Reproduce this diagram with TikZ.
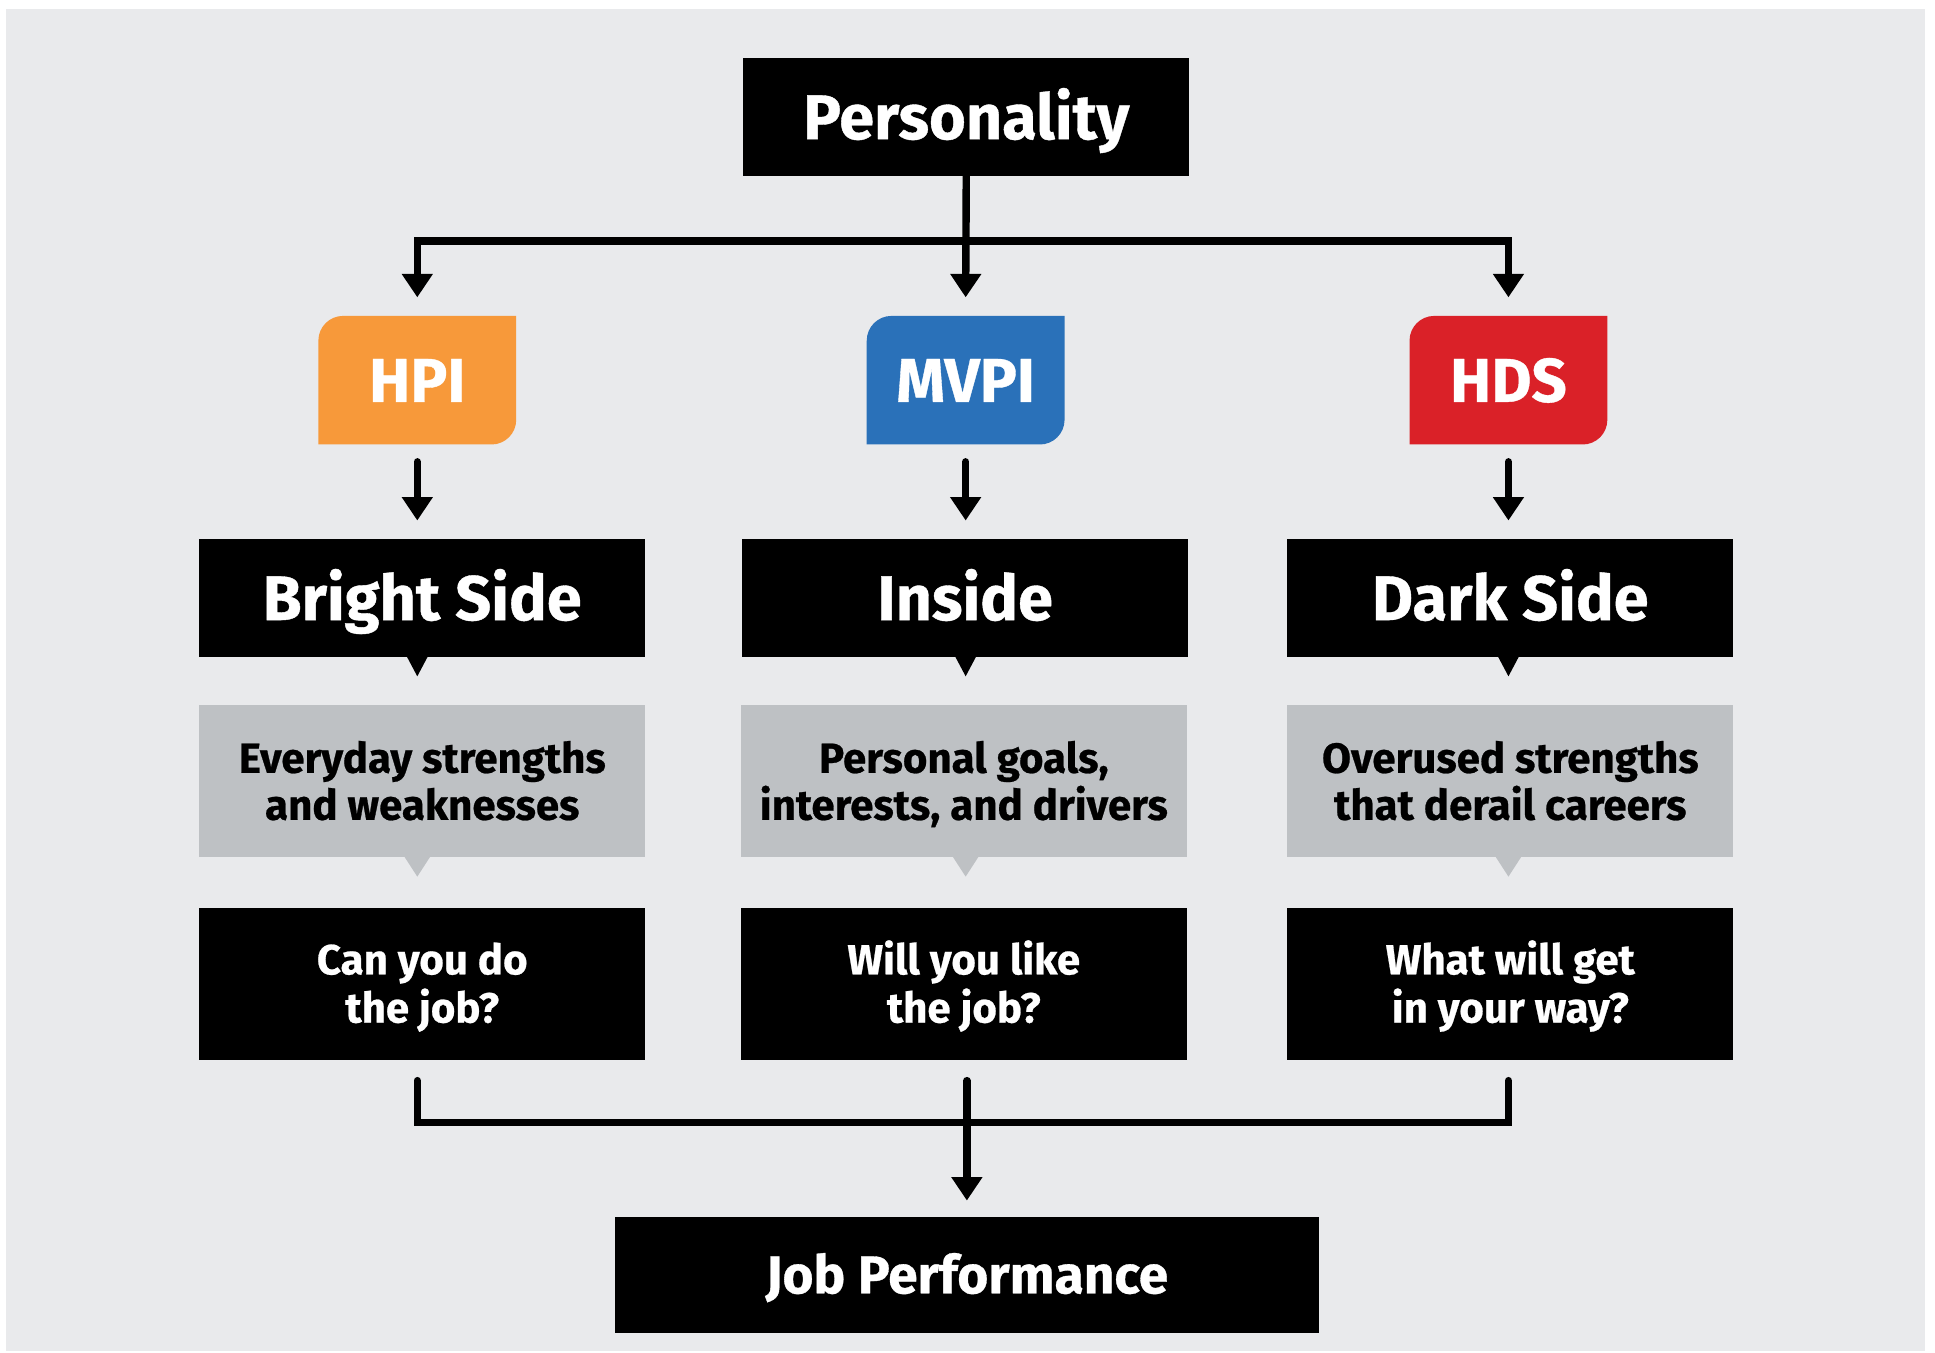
\documentclass[tikz,border=0pt]{standalone}
\usepackage{fontspec}
\setmainfont{Fira Sans}[BoldFeatures={FakeBold=0.6}]
\usetikzlibrary{arrows.meta,calc}
\definecolor{bgcol}{HTML}{E9EAEC}
\definecolor{graybox}{HTML}{BEC1C4}
\definecolor{hpicol}{HTML}{F7993A}
\definecolor{mvpicol}{HTML}{2A71B9}
\definecolor{hdscol}{HTML}{DA2128}
\newcommand\myTop[1]{\rule{0pt}{#1}}
\newcommand\myBot[1]{\rule[-#1]{0pt}{#1}}
\begin{document}
\begin{tikzpicture}[x=1pt,y=-1pt,
  blackbox/.style={fill=black,text=white,inner sep=0pt,outer sep=0pt,minimum width=361pt,align=center},
  headbox/.style={blackbox,minimum height=95pt,text height=36pt,text depth=0pt,font=\fontsize{51}{51}\selectfont\bfseries},
  descbox/.style={fill=graybox,text=black,inner sep=0pt,outer sep=0pt,minimum width=361pt,minimum height=123pt,align=center,font=\fontsize{34}{38}\selectfont\bfseries},
  qbox/.style={blackbox,minimum height=123pt,font=\fontsize{34}{39}\selectfont\bfseries},
  tagbox/.style={text=white,inner sep=0pt,outer sep=0pt,minimum width=160pt,minimum height=104pt,text height=35pt,text depth=0pt,font=\fontsize{50}{50}\selectfont\bfseries},
  conn/.style={line width=6pt,draw=black},
  arr/.style={conn,-{Triangle[length=19pt,width=24pt]}},
  stub/.style={arr,line cap=round}
]
\useasboundingbox (0,0) rectangle (1565,1094);
\fill[white] (0,0) rectangle (1565,1094);
\fill[bgcol] (5,7) rectangle (1557,1093);

% top
\node[headbox] (pers) at (781.5,94.5) {Personality};

% tags (shape drawn behind, text in node)
\foreach \n/\c/\x in {hpi/hpicol/337.5,mvpi/mvpicol/781,hds/hdscol/1220}{
  \path (\x,307.5) node[tagbox,name=\n] {};
  \fill[\c] (\n.south west) -- ([yshift=-20pt]\n.north west)
     arc[start angle=180,end angle=90,radius=20pt]
     -- (\n.north east) -- ([yshift=20pt]\n.south east)
     arc[start angle=0,end angle=-90,radius=20pt] -- cycle;
}
\node[tagbox] (hpit) at (hpi) {HPI};
\node[tagbox] (mvpit) at (mvpi) {MVPI};
\node[tagbox] (hdst) at (hds) {HDS};

% side boxes
\node[headbox] (bs) at (341.5,483.5) {Bright Side};
\node[headbox] (ins) at (780.5,483.5) {Inside};
\node[headbox] (ds) at (1221.5,483.5) {Dark Side};

% descriptions
\node[descbox] (d1) at (341.5,631.5) {\myTop{35pt}Everyday strengths\\and weaknesses\myBot{10pt}};
\node[descbox] (d2) at (779.5,631.5) {\myTop{35pt}Personal goals,\\interests, and drivers\myBot{10pt}};
\node[descbox] (d3) at (1221.5,631.5) {\myTop{35pt}Overused strengths\\that derail careers\myBot{10pt}};

% questions
\node[qbox] (q1) at (341.5,795.5) {\myTop{34pt}Can you do\\the job?\myBot{10pt}};
\node[qbox] (q2) at (779.5,795.5) {\myTop{34pt}Will you like\\the job?\myBot{10pt}};
\node[qbox] (q3) at (1221.5,795.5) {\myTop{34pt}What will get\\in your way?\myBot{10pt}};

% bottom
\node[headbox,minimum width=570pt,minimum height=94pt,text height=30pt,font=\fontsize{43}{43}\selectfont\bfseries] (jp) at (782,1031) {Job Performance};

% tails
\foreach \b/\t in {bs/hpi,ins/mvpi,ds/hds}{
  \fill[black] ($(\b.south -| \t.south)+(-9,-1)$) -- ++(18,0) -- ($(\b.south -| \t.south)+(0,16)$) -- cycle;
}
\foreach \b/\t in {d1/hpi,d2/mvpi,d3/hds}{
  \fill[graybox] ($(\b.south -| \t.south)+(-11,-1)$) -- ++(22,0) -- ($(\b.south -| \t.south)+(0,16)$) -- cycle;
}

% connectors top
\coordinate (split) at (782,195);
\draw[arr] (pers.south) -- ([yshift=15pt]mvpi.north);
\draw[arr] (split) -| ([yshift=15pt]hpi.north);
\draw[arr] (split) -| ([yshift=15pt]hds.north);

% tag to side
\draw[stub] ([yshift=-14pt]hpi.south) -- ([yshift=15pt]bs.north -| hpi.south);
\draw[stub] ([yshift=-14pt]mvpi.south) -- ([yshift=15pt]ins.north -| mvpi.south);
\draw[stub] ([yshift=-14pt]hds.south) -- ([yshift=15pt]ds.north -| hds.south);

% bottom bracket
\coordinate (b1) at ($(q1.south -| hpi.south)+(0,17)$);
\coordinate (b3) at ($(q3.south -| hds.south)+(0,17)$);
\draw[conn,line cap=round] (b1) -- ++(0,34) -| (b3);
\draw[stub] ($(q2.south -| jp.north)+(0,17)$) -- ([yshift=13pt]jp.north);
\end{tikzpicture}
\end{document}
